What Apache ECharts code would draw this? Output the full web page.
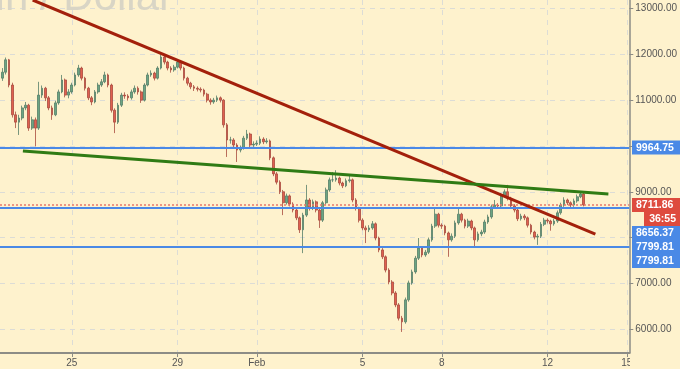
<!DOCTYPE html>
<html><head><meta charset="utf-8">
<script src="https://cdn.jsdelivr.net/npm/echarts@6/dist/echarts.min.js"></script>
<style>html,body{margin:0;padding:0;background:#fef2cd;}#c{width:680px;height:369px;}</style>
</head><body><div id="c"></div>
<script>
// time axis: hours relative to 25 Jan 00:00, one candle every 3 hours
const startHour = -63, stepHours = 3;
const firstOpen = 11480;
const closes = [
11610,11880,11330,10680,10520,10610,10830,10890,10390,10570,
10390,11110,11260,11050,10830,10680,10940,11180,11440,11110,
11180,11330,11550,11700,11480,11260,11050,10960,11180,11330,
11400,11550,11330,10780,10520,10890,11110,11090,11050,11180,
11260,11180,11000,11330,11550,11590,11480,11700,11940,11830,
11700,11660,11720,11830,11700,11480,11370,11290,11260,11240,
11220,11130,11000,10960,11000,11050,11000,10460,10130,10130,
10020,9910,9950,10170,10260,10020,10040,10060,10150,10090,
10110,9740,9390,9210,9000,8760,8910,8730,8600,8430,
8170,8490,8820,8640,8780,8600,8380,8760,9040,9260,
9260,9300,9190,9130,9240,9260,8820,8640,8380,8210,
8170,8210,8300,7990,7730,7580,7290,7030,6790,6530,
6240,6160,6640,7010,7250,7550,7770,7620,7680,7950,
8250,8510,8270,8250,8100,7950,8030,8320,8510,8380,
8250,8360,8210,7950,8080,8120,8340,8450,8670,8710,
8690,8910,9000,8860,8690,8600,8410,8470,8430,8270,
8120,8010,8030,8290,8380,8360,8300,8360,8540,8710,
8820,8760,8710,8800,8890,8950,8711.86];
const highs = [
11700,11930,11900,11380,10750,10680,10880,10960,10920,10640,
10620,11400,11320,11290,11090,10880,10990,11230,11550,11470,
11240,11380,11600,11770,11730,11510,11290,11090,11220,11380,
11460,11620,11580,11360,10820,10940,11160,11170,11130,11230,
11320,11300,11210,11370,11600,11650,11620,11740,11990,11970,
11860,11740,11770,11880,11860,11730,11510,11400,11330,11300,
11280,11250,11160,11040,11050,11100,11080,11020,10500,10200,
10170,10060,10010,10220,10350,10290,10100,10120,10210,10190,
10170,10140,9770,9430,9250,9040,8960,8940,8770,8640,
8460,8540,9150,8860,8830,8810,8630,8800,9090,9310,
9430,9470,9330,9220,9290,9360,9290,8860,8670,8420,
8260,8270,8360,8330,8020,7770,7610,7330,7070,6830,
6570,6290,6690,7060,7300,7600,7990,7800,7730,8000,
8300,8640,8540,8310,8280,8130,8090,8370,8640,8540,
8410,8410,8390,8240,8130,8170,8390,8500,8720,8820,
8750,8960,9050,9150,8890,8730,8640,8520,8510,8460,
8300,8150,8080,8340,8430,8420,8390,8410,8590,8760,
8880,8850,8790,8850,8940,9010,8970];
const lows = [
11420,11560,11280,10620,10390,10240,10560,10780,10330,10350,
9990,10350,11050,10980,10780,10570,10650,10900,11150,11060,
11040,11140,11300,11510,11430,11210,11000,10890,10930,11140,
11290,11370,11280,10730,10280,10480,10850,11030,10990,11010,
11140,11120,10940,10970,11300,11510,11430,11450,11670,11780,
11650,11600,11620,11690,11650,11430,11320,11240,11200,11190,
11170,11080,10950,10900,10920,10960,10950,10400,9760,10050,
9950,9650,9860,9920,10130,9970,9980,10000,10020,10040,
10050,9690,9340,9160,8950,8490,8720,8680,8550,8380,
8100,7660,8450,8590,8600,8550,8210,8340,8720,9000,
9210,9220,9140,9080,9100,9200,8770,8590,8330,8160,
7880,8120,8170,7940,7680,7530,7240,6980,6740,6480,
6190,5940,6120,6600,6970,7210,7510,7570,7580,7640,
7910,8210,8220,8190,8050,7580,7910,7990,8280,8330,
8200,8210,8160,7790,7910,8030,8080,8300,8410,8630,
8640,8650,8870,8810,8640,8550,8360,8370,8380,8220,
8070,7960,7840,7990,8250,8310,8150,8260,8320,8500,
8670,8710,8660,8670,8760,8860,8680];

const tickHours = [0, 96, 168, 264, 336, 432, 504];
const tickLabels = ['25', '29', 'Feb', '5', '8', '12', '15'];
const yTicks = [6000, 7000, 8000, 9000, 10000, 11000, 12000, 13000];
const levelValues = [9964.75, 8656.37, 7799.81, 7799.81];
const lastPrice = 8711.86;
const countdown = '36:55';
const redTrend = [[-35.5, 13186], [475.5, 8077]];
const greenTrend = [[-44.4, 9889], [487.3, 8951]];
const watermark = 'Bitcoin / Dollar';

const candles = closes.map((c, i) => {
  const open = i === 0 ? firstOpen : closes[i - 1];
  return [startHour + stepHours * i, open, c, lows[i], highs[i]];
});

const BG = '#fef2cd', BLUE = '#4a89e6', RED = '#de4b3e';
const chart = echarts.init(document.getElementById('c'), null, {renderer: 'canvas'});
const gridLine = {show: true, lineStyle: {color: '#dcdcd6', type: [5, 5], width: 1}};
chart.setOption({
  backgroundColor: BG,
  animation: false,
  grid: {left: 0, right: 49, top: 0, bottom: 16, containLabel: false},
  xAxis: {
    type: 'value', min: -65.2, max: 506.3,
    axisLine: {show: true, onZero: false, lineStyle: {color: '#8c8c86', width: 2}},
    axisTick: {show: true, length: 4, customValues: tickHours, lineStyle: {color: '#8c8c86'}},
    axisLabel: {customValues: tickHours, margin: 5, color: '#555', fontSize: 10, fontFamily: 'Liberation Sans',
      formatter: v => tickLabels[tickHours.indexOf(v)]},
    splitLine: gridLine
  },
  yAxis: {
    type: 'value', position: 'right', min: 5480, max: 13186, scale: true,
    axisLine: {show: true, onZero: false, lineStyle: {color: '#8c8c86', width: 1.5}},
    axisTick: {show: true, length: 4, customValues: yTicks, lineStyle: {color: '#8c8c86'}},
    axisLabel: {customValues: yTicks, margin: 6, color: '#555', fontSize: 10, fontFamily: 'Liberation Sans',
      formatter: v => v.toFixed(2)},
    splitLine: gridLine
  },
  series: [{
    type: 'candlestick',
    data: candles,
    encode: {x: 0, y: [1, 2, 3, 4]},
    barWidth: 2.2,
    itemStyle: {color: '#6ba583', color0: '#e0604f', borderColor: '#557d68', borderColor0: '#a84a3e', borderWidth: 0.8},
    markLine: {
      silent: true, symbol: 'none', label: {show: false}, animation: false,
      data: [
        ...levelValues.map(v => ({yAxis: v, lineStyle: {color: BLUE, width: 2, type: 'solid'}})),
        {yAxis: lastPrice, lineStyle: {color: '#e8786b', width: 1.5, type: [2, 2]}},
        [{coord: redTrend[0], lineStyle: {color: '#a3200b', width: 3, type: 'solid'}}, {coord: redTrend[1]}],
        [{coord: greenTrend[0], lineStyle: {color: '#2f7b14', width: 3, type: 'solid'}}, {coord: greenTrend[1]}]
      ]
    }
  }]
});

// price tags on the right scale, stacked so they do not overlap
const yPix = v => chart.convertToPixel({yAxisIndex: 0}, v);
const tags = [
  {v: levelValues[0], text: levelValues[0].toFixed(2), color: BLUE},
  {v: lastPrice, text: lastPrice.toFixed(2), color: RED},
  {v: lastPrice, text: countdown, color: RED, narrow: true},
  {v: levelValues[1], text: levelValues[1].toFixed(2), color: BLUE},
  {v: levelValues[2], text: levelValues[2].toFixed(2), color: BLUE},
  {v: levelValues[3], text: levelValues[3].toFixed(2), color: BLUE}
];
const H = 14;
let prevBottom = -1e9;
const graphics = [];
tags.forEach(t => {
  const cy = yPix(t.v);
  const top = Math.max(cy - H / 2, prevBottom);
  prevBottom = top + H;
  const x0 = t.narrow ? 644 : 632;
  graphics.push({type: 'rect', z: 100, shape: {x: x0, y: top, width: 680 - x0, height: H}, style: {fill: t.color}});
  graphics.push({type: 'text', z: 101, x: t.narrow ? 676 : 636, y: top + H / 2 + 0.5,
    style: {text: t.text, fill: '#fff', font: 'bold 10.5px "Liberation Sans"', verticalAlign: 'middle', align: t.narrow ? 'right' : 'left'}});
});
graphics.push({type: 'rect', z: 100, shape: {x: 630, y: 355, width: 50, height: 14}, style: {fill: BG}});
graphics.push({type: 'text', z: 1, x: 173, y: 19,
  style: {text: watermark, fill: '#d9d5c5', font: '42px "Liberation Sans"', align: 'right', verticalAlign: 'bottom'}});
chart.setOption({graphic: graphics});
</script></body></html>
